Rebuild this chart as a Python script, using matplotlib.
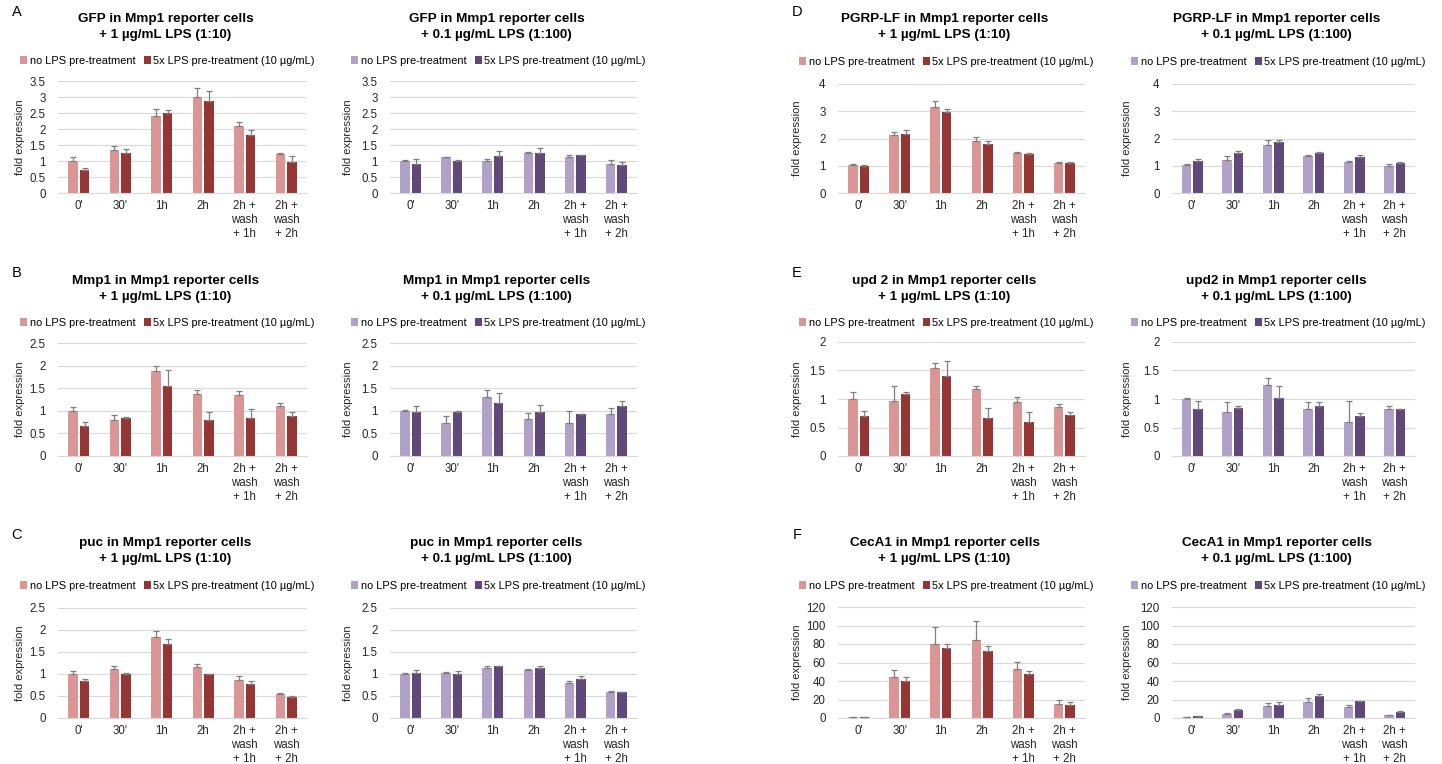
import numpy as np
import matplotlib.pyplot as plt

plt.rcParams['font.family'] = ['Liberation Sans', 'DejaVu Sans']

W, H = 1442, 764

timepoints = ["0'", "30'", "1h", "2h", "2h +\nwash\n+ 1h", "2h +\nwash\n+ 2h"]
legend_labels = ["no LPS pre-treatment", "5x LPS pre-treatment (10 µg/mL)"]

# A - GFP
gfp_hi_no = [1.00, 1.35, 2.42, 3.00, 2.09, 1.23]
gfp_hi_no_err = [0.13, 0.13, 0.20, 0.29, 0.12, 0.03]
gfp_hi_lps = [0.73, 1.26, 2.49, 2.87, 1.82, 0.98]
gfp_hi_lps_err = [0.04, 0.10, 0.10, 0.31, 0.14, 0.17]
gfp_lo_no = [1.00, 1.11, 1.01, 1.25, 1.11, 0.92]
gfp_lo_no_err = [0.03, 0.03, 0.05, 0.03, 0.07, 0.10]
gfp_lo_lps = [0.91, 0.99, 1.16, 1.25, 1.18, 0.89]
gfp_lo_lps_err = [0.15, 0.05, 0.16, 0.15, 0.02, 0.08]

# B - Mmp1
mmp1_hi_no = [1.00, 0.80, 1.88, 1.38, 1.35, 1.10]
mmp1_hi_no_err = [0.09, 0.11, 0.12, 0.09, 0.08, 0.08]
mmp1_hi_lps = [0.66, 0.84, 1.55, 0.80, 0.83, 0.89]
mmp1_hi_lps_err = [0.09, 0.03, 0.35, 0.18, 0.21, 0.09]
mmp1_lo_no = [1.00, 0.73, 1.30, 0.81, 0.73, 0.94]
mmp1_lo_no_err = [0.02, 0.15, 0.17, 0.14, 0.27, 0.13]
mmp1_lo_lps = [0.98, 0.98, 1.18, 0.98, 0.92, 1.11]
mmp1_lo_lps_err = [0.12, 0.02, 0.21, 0.14, 0.01, 0.10]

# C - puc
puc_hi_no = [1.00, 1.11, 1.84, 1.16, 0.86, 0.54]
puc_hi_no_err = [0.07, 0.08, 0.13, 0.07, 0.09, 0.03]
puc_hi_lps = [0.85, 1.00, 1.68, 1.00, 0.78, 0.48]
puc_hi_lps_err = [0.03, 0.02, 0.11, 0.01, 0.07, 0.01]
puc_lo_no = [1.01, 1.02, 1.14, 1.10, 0.80, 0.60]
puc_lo_no_err = [0.02, 0.02, 0.05, 0.02, 0.03, 0.02]
puc_lo_lps = [1.03, 1.01, 1.18, 1.14, 0.89, 0.58]
puc_lo_lps_err = [0.07, 0.06, 0.01, 0.05, 0.07, 0.01]

# D - PGRP-LF
pgrp_hi_no = [1.01, 2.13, 3.15, 1.89, 1.46, 1.11]
pgrp_hi_no_err = [0.05, 0.10, 0.24, 0.18, 0.06, 0.02]
pgrp_hi_lps = [0.99, 2.16, 2.99, 1.80, 1.44, 1.10]
pgrp_hi_lps_err = [0.03, 0.14, 0.10, 0.09, 0.02, 0.02]
pgrp_lo_no = [1.02, 1.22, 1.76, 1.35, 1.15, 1.00]
pgrp_lo_no_err = [0.03, 0.12, 0.20, 0.03, 0.02, 0.07]
pgrp_lo_lps = [1.18, 1.46, 1.88, 1.46, 1.32, 1.11]
pgrp_lo_lps_err = [0.06, 0.09, 0.06, 0.06, 0.07, 0.02]

# E - upd2
upd2_hi_no = [1.00, 0.97, 1.55, 1.17, 0.94, 0.86]
upd2_hi_no_err = [0.13, 0.25, 0.08, 0.05, 0.09, 0.06]
upd2_hi_lps = [0.71, 1.08, 1.40, 0.66, 0.60, 0.72]
upd2_hi_lps_err = [0.08, 0.05, 0.27, 0.19, 0.17, 0.06]
upd2_lo_no = [1.00, 0.78, 1.25, 0.82, 0.60, 0.83]
upd2_lo_no_err = [0.02, 0.17, 0.11, 0.12, 0.36, 0.04]
upd2_lo_lps = [0.82, 0.84, 1.02, 0.87, 0.71, 0.82]
upd2_lo_lps_err = [0.14, 0.04, 0.21, 0.07, 0.04, 0.01]

# F - CecA1
ceca1_hi_no = [1.0, 44.7, 80.4, 84.0, 53.3, 15.1]
ceca1_hi_no_err = [0.2, 6.8, 18.0, 21.0, 7.6, 4.3]
ceca1_hi_lps = [1.3, 40.4, 75.7, 72.0, 47.6, 14.4]
ceca1_hi_lps_err = [0.3, 4.0, 4.7, 5.4, 2.9, 3.2]
ceca1_lo_no = [1.0, 4.7, 12.7, 17.0, 11.6, 3.3]
ceca1_lo_no_err = [0.2, 1.1, 3.3, 4.8, 2.9, 0.4]
ceca1_lo_lps = [2.0, 8.7, 14.5, 24.0, 18.1, 6.9]
ceca1_lo_lps_err = [0.5, 1.1, 3.3, 1.8, 0.4, 1.1]

red_colors = ['#DA9694', '#963634']
purple_colors = ['#B1A0C7', '#60497A']

fig = plt.figure(figsize=(W / 100, H / 100), dpi=100)


def fx(x):
    return x / W


def fy(y):
    return 1 - y / H


def draw(box, title_y, legend_y, title, no, no_err, lps, lps_err, colors, ymax, ystep, ylab_x):
    left, top, right, bottom = box
    ax = fig.add_axes([fx(left), fy(bottom), fx(right - left), (bottom - top) / H])
    x = np.arange(len(timepoints))
    w = 0.23
    ax.bar(x - 0.14, no, w, color=colors[0], label=legend_labels[0], zorder=2)
    ax.bar(x + 0.14, lps, w, color=colors[1], label=legend_labels[1], zorder=2)
    ax.errorbar(x - 0.14, no, yerr=[np.zeros(len(no)), no_err], fmt='none',
                ecolor='#7f7f7f', elinewidth=0.9, capsize=2.5, capthick=0.9, zorder=3)
    ax.errorbar(x + 0.14, lps, yerr=[np.zeros(len(lps)), lps_err], fmt='none',
                ecolor='#7f7f7f', elinewidth=0.9, capsize=2.5, capthick=0.9, zorder=3)
    ax.set_xlim(-0.5, len(timepoints) - 0.5)
    ax.set_ylim(0, ymax)
    ticks = np.arange(0, ymax + ystep / 2, ystep)
    ax.set_yticks(ticks)
    ax.set_yticklabels(['%g' % t for t in ticks])
    ax.set_xticks(x)
    ax.set_xticklabels(timepoints, linespacing=1.2)
    ax.tick_params(length=0, labelsize=8.3, colors='#262626', pad=5)
    ax.tick_params(axis='y', pad=9)
    ax.grid(axis='y', color='#d9d9d9', linewidth=0.8, zorder=0)
    for s in ['top', 'right', 'left']:
        ax.spines[s].set_visible(False)
    ax.spines['bottom'].set_color('#d9d9d9')
    ax.spines['bottom'].set_linewidth(0.8)
    cx = (left + right) / 2
    fig.text(fx(cx - 17), fy(title_y), title, ha='center', va='center',
             fontsize=9.7, fontweight='bold', linespacing=1.35)
    ax.legend(loc='center', bbox_to_anchor=(fx(cx - 15), fy(legend_y)),
              bbox_transform=fig.transFigure, ncol=2, frameon=False,
              fontsize=7.95, handlelength=0.65, handleheight=0.65,
              handletextpad=0.2, columnspacing=0.8, borderpad=0)
    fig.text(fx(ylab_x), fy((top + bottom) / 2), 'fold expression', rotation=90,
             ha='center', va='center', fontsize=8.1, color='#262626')
    return ax


hi = '\n+ 1 µg/mL LPS (1:10)'
lo = '\n+ 0.1 µg/mL LPS (1:100)'
cell = ' in Mmp1 reporter cells'

draw((58, 81, 307, 193), 27, 61, 'GFP' + cell + hi, gfp_hi_no, gfp_hi_no_err,
     gfp_hi_lps, gfp_hi_lps_err, red_colors, 3.5, 0.5, 20)
draw((390, 81, 637, 193), 27, 61, 'GFP' + cell + lo, gfp_lo_no, gfp_lo_no_err,
     gfp_lo_lps, gfp_lo_lps_err, purple_colors, 3.5, 0.5, 348)
draw((838, 84, 1085, 193), 27, 62, 'PGRP-LF' + cell + hi, pgrp_hi_no, pgrp_hi_no_err,
     pgrp_hi_lps, pgrp_hi_lps_err, red_colors, 4, 1, 797)
draw((1172, 84, 1415, 193), 27, 62, 'PGRP-LF' + cell + lo, pgrp_lo_no, pgrp_lo_no_err,
     pgrp_lo_lps, pgrp_lo_lps_err, purple_colors, 4, 1, 1127)

draw((58, 343, 307, 456), 289, 323, 'Mmp1' + cell + hi, mmp1_hi_no, mmp1_hi_no_err,
     mmp1_hi_lps, mmp1_hi_lps_err, red_colors, 2.5, 0.5, 20)
draw((390, 343, 637, 456), 289, 323, 'Mmp1' + cell + lo, mmp1_lo_no, mmp1_lo_no_err,
     mmp1_lo_lps, mmp1_lo_lps_err, purple_colors, 2.5, 0.5, 348)
draw((838, 342, 1085, 456), 289, 323, 'upd 2' + cell + hi, upd2_hi_no, upd2_hi_no_err,
     upd2_hi_lps, upd2_hi_lps_err, red_colors, 2, 0.5, 797)
draw((1172, 342, 1415, 456), 289, 323, 'upd2' + cell + lo, upd2_lo_no, upd2_lo_no_err,
     upd2_lo_lps, upd2_lo_lps_err, purple_colors, 2, 0.5, 1127)

draw((58, 608, 307, 718), 551, 586, 'puc' + cell + hi, puc_hi_no, puc_hi_no_err,
     puc_hi_lps, puc_hi_lps_err, red_colors, 2.5, 0.5, 20)
draw((390, 608, 637, 718), 551, 586, 'puc' + cell + lo, puc_lo_no, puc_lo_no_err,
     puc_lo_lps, puc_lo_lps_err, purple_colors, 2.5, 0.5, 348)
draw((838, 607, 1085, 718), 551, 586, 'CecA1' + cell + hi, ceca1_hi_no, ceca1_hi_no_err,
     ceca1_hi_lps, ceca1_hi_lps_err, red_colors, 120, 20, 797)
draw((1172, 607, 1415, 718), 551, 586, 'CecA1' + cell + lo, ceca1_lo_no, ceca1_lo_no_err,
     ceca1_lo_lps, ceca1_lo_lps_err, purple_colors, 120, 20, 1127)

for letter, (px, py) in zip('ABCDEF', [(17, 12), (17, 273), (17, 535),
                                       (797, 12), (797, 273), (797, 535)]):
    fig.text(fx(px), fy(py), letter, ha='center', va='center', fontsize=10.5)

fig.savefig('out.png', dpi=100, facecolor='white')
